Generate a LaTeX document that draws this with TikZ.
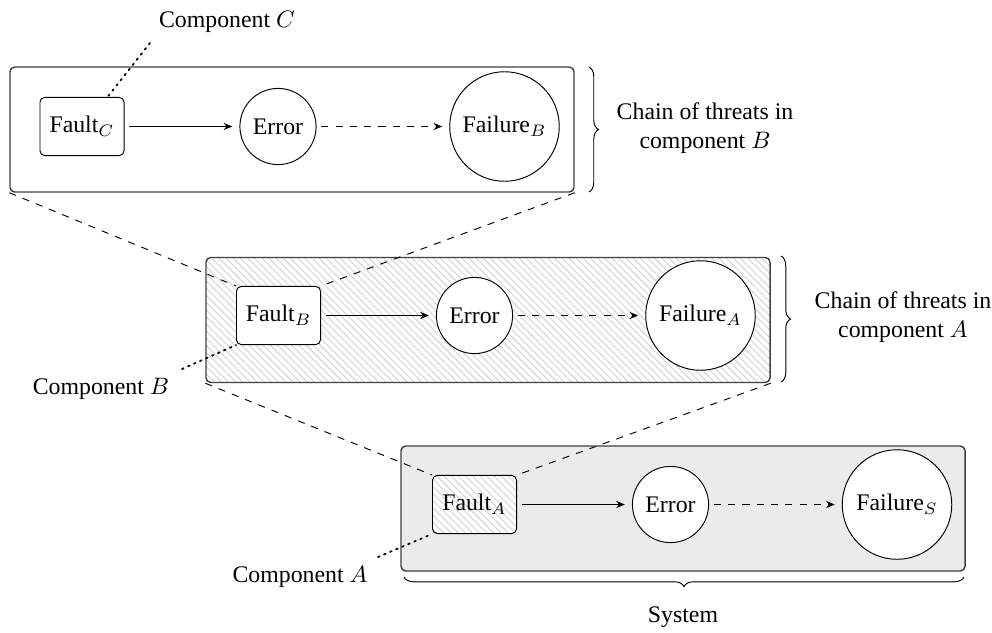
\documentclass[tikz,border=0pt]{standalone}
\usepackage{fontspec}
\setmainfont{Liberation Serif}
\usetikzlibrary{patterns,decorations.pathreplacing,calc,arrows.meta}
\definecolor{panelgray}{gray}{0.92}
\begin{document}
\begin{tikzpicture}[x=0.42pt,y=-0.42pt,
  stage/.style={draw=black!75,line width=0.6pt,rounded corners=2pt,inner sep=0pt,
    minimum width=236.9pt,minimum height=52.5pt},
  hatched/.style={preaction={fill=white},pattern=north west lines,pattern color=black!17},
  faultbox/.style={draw,rounded corners=2pt,fill=white,minimum width=35.3pt,
    minimum height=24.4pt,inner sep=0pt},
  errnode/.style={draw,circle,fill=white,minimum size=32pt,inner sep=1pt},
  failnode/.style={draw,circle,fill=white,minimum size=46pt,inner sep=1pt},
  flow/.style={-{Stealth[length=3.6pt,width=3pt]},shorten <=2pt,shorten >=3pt},
  zoomline/.style={dashed},
  tagline/.style={dotted,line width=0.75pt,line cap=round},
  curlybrace/.style={decorate,decoration={brace,amplitude=4pt}},
]
\useasboundingbox (0,0) rectangle (992,632);

% the three nested stages
\node[stage] (boxB) at (292,129.5) {};
\node[stage,hatched] (boxA) at (488,320) {};
\node[stage,fill=panelgray] (boxS) at (683,508.5) {};

% chain inside component B
\node[faultbox] (faultC) at (82,126.5) {Fault$_C$};
\node[errnode] (errorB) at (278,126.5) {Error};
\node[failnode] (failureB) at (504.5,126.5) {Failure$_B$};

% chain inside component A
\node[faultbox] (faultB) at (278.5,315.5) {Fault$_B$};
\node[errnode] (errorA) at (474.5,315.5) {Error};
\node[failnode] (failureA) at (700.5,315.5) {Failure$_A$};

% chain of the system
\node[faultbox,hatched] (faultA) at (474.5,504.5) {Fault$_A$};
\node[errnode] (errorS) at (670.5,504.5) {Error};
\node[failnode] (failureS) at (897,504.5) {Failure$_S$};

% propagation arrows
\draw[flow] (faultC) -- (errorB);
\draw[flow,dashed] (errorB) -- (failureB);
\draw[flow] (faultB) -- (errorA);
\draw[flow,dashed] (errorA) -- (failureA);
\draw[flow] (faultA) -- (errorS);
\draw[flow,dashed] (errorS) -- (failureS);

% zoom lines: each stage expands a fault of the next one
\draw[zoomline] (boxB.south west) -- (faultB.north west);
\draw[zoomline] (boxB.south east) -- (faultB.north east);
\draw[zoomline] (boxA.south west) -- (faultA.north west);
\draw[zoomline] (boxA.south east) -- (faultA.north east);

% component labels
\node (compC) at (227,22) {Component $C$};
\node (compB) at (101,389) {Component $B$};
\node (compA) at (300,577) {Component $A$};
\coordinate (tagC) at (150,43);
\coordinate (tagB) at (182,369);
\coordinate (tagA) at (378,557);
\draw[tagline] (tagC) -- ($(faultC.north west)!0.8!(faultC.north east)$);
\draw[tagline] (tagB) -- (faultB.south west);
\draw[tagline] (tagA) -- (faultA.south west);

% braces and their captions
\coordinate (brBtop) at (589,67);
\coordinate (brBbot) at (589,192);
\coordinate (brAtop) at (781,256);
\coordinate (brAbot) at (781,382);
\coordinate (brSright) at (964,577);
\coordinate (brSleft) at (404,577);
\draw[curlybrace] (brBtop) -- (brBbot);
\draw[curlybrace] (brAtop) -- (brAbot);
\draw[curlybrace] (brSright) -- (brSleft);
\node[align=center] (chainB) at (705,128) {Chain of threats in\\component $B$};
\node[align=center] (chainA) at (903,317) {Chain of threats in\\component $A$};
\node (system) at (683,617) {System};
\end{tikzpicture}
\end{document}
